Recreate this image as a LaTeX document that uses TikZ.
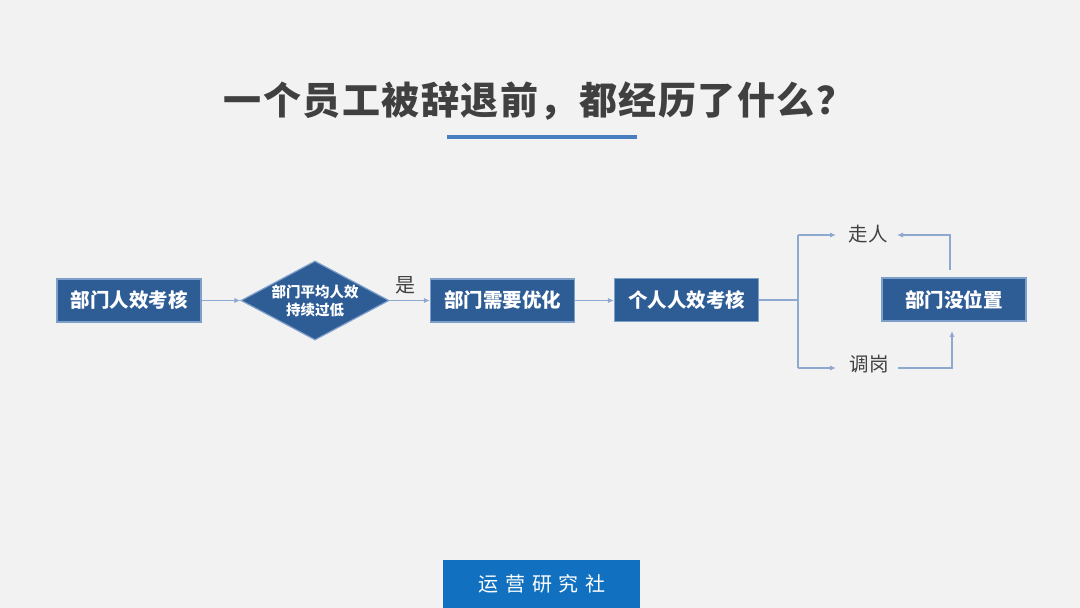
\documentclass[tikz,border=0pt]{standalone}
\usepackage{fontspec}
\setmainfont{Noto Sans CJK SC}
\usetikzlibrary{arrows.meta,shapes.geometric}
\definecolor{bg}{HTML}{F2F2F2}
\definecolor{boxfill}{HTML}{2E5D96}
\definecolor{boxline}{HTML}{7F9FCB}
\definecolor{conn}{HTML}{8DA9CF}
\definecolor{txt}{HTML}{404040}
\definecolor{bar}{HTML}{4A7EC1}
\definecolor{brand}{HTML}{1170BF}
\tikzset{
  stepbox/.style={draw=boxline,fill=boxfill,line width=0.6pt,minimum width=72pt,minimum height=21.5pt,inner sep=0pt,text=white,font=\fontsize{9.75pt}{11pt}\selectfont\bfseries},
  conn/.style={draw=conn,line width=0.6pt},
  arr/.style={conn,-{Latex[length=3pt,width=2.6pt]}},
  lbl/.style={text=txt,font=\fontsize{9.75pt}{11pt}\selectfont,inner sep=0pt}
}
\begin{document}
\begin{tikzpicture}[x=0.5pt,y=-0.5pt]
\fill[bg] (0,0) rectangle (1080,608);
\useasboundingbox (0,0) rectangle (1080,608);
% title
\node[text=txt,font=\fontsize{19pt}{22pt}\selectfont\bfseries\addfontfeature{LetterSpace=4},inner sep=0pt] (title) at (539,101) {一个员工被辞退前，都经历了什么？};
\fill[bar] (447,135) rectangle (637,139);
% nodes
\node[stepbox] (b1) at (129,300.5) {部门人效考核};
\node[diamond,draw=boxline,fill=boxfill,line width=0.6pt,minimum width=74pt,minimum height=39.5pt,inner sep=0pt] (dia) at (315,300.5) {};
\node[text=white,font=\fontsize{7.25pt}{9pt}\selectfont\bfseries,align=center,inner sep=0pt] (diat) at (315,301) {部门平均人效\\持续过低};
\node[stepbox] (b2) at (502.5,300.5) {部门需要优化};
\node[stepbox] (b3) at (686.5,300) {个人人效考核};
\node[stepbox] (b4) at (954,299.5) {部门没位置};
\node[lbl,font=\fontsize{10pt}{11pt}\selectfont] (yes) at (405,285) {是};
\node[lbl] (zou) at (868,234) {走人};
\node[lbl] (tiao) at (869,364) {调岗};
% connectors
\draw[arr] (b1.east) -- (dia.west);
\draw[arr] (dia.east) -- (b2.west);
\draw[arr] (b2.east) -- (b2.east -| b3.west);
\coordinate (fork) at (798,300);
\coordinate (forkT) at (798,235);
\coordinate (forkB) at (798,368);
\coordinate (zouE) at (836,235);
\coordinate (tiaoE) at (836,368);
\draw[conn] (b3.east |- fork) -- (fork);
\draw[conn] (forkT) -- (forkB);
\draw[arr] (forkT) -- (zouE);
\draw[arr] (forkB) -- (tiaoE);
\coordinate (upS) at (950,270);
\coordinate (upC) at (950,235);
\coordinate (upE) at (897,235);
\draw[arr] (upS) -- (upC) -- (upE);
\coordinate (dnS) at (898,368);
\coordinate (dnC) at (952,368);
\coordinate (dnE) at (952,331);
\draw[arr] (dnS) -- (dnC) -- (dnE);
% brand
\fill[brand] (443,560) rectangle (640,608);
\node[text=white,font=\fontsize{10pt}{11pt}\selectfont,inner sep=0pt] (brandt) at (542,584) {运\hspace{3.3pt}营\hspace{3.3pt}研\hspace{3.3pt}究\hspace{3.3pt}社};
\end{tikzpicture}
\end{document}
